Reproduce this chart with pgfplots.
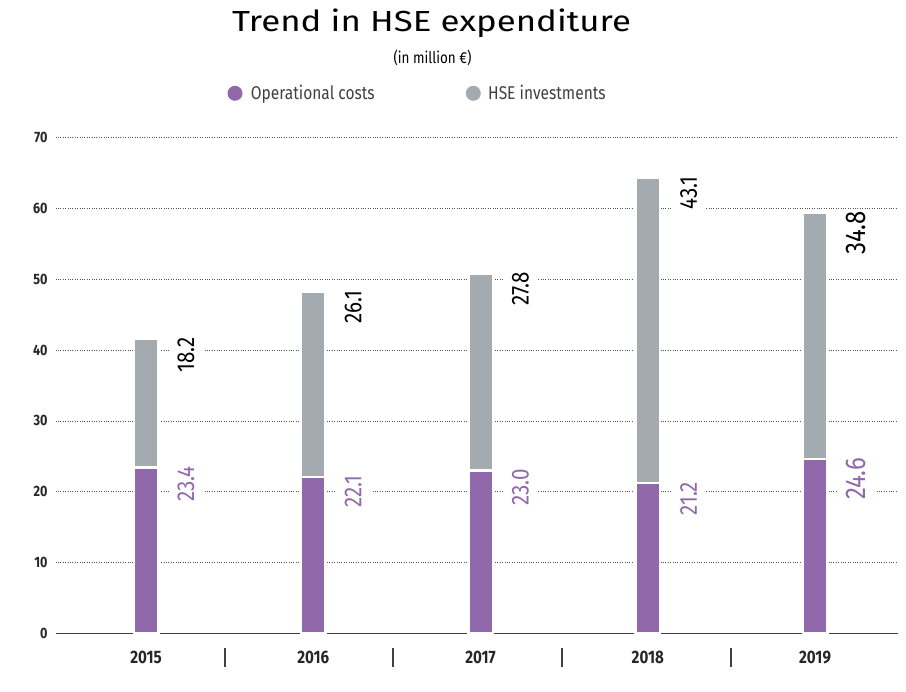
\documentclass[border=0pt]{standalone}
\usepackage{fontspec}
\setmainfont{Fira Sans}
\newfontfamily\cond[FakeStretch=0.84]{Fira Sans}
\newfontfamily\wide[FakeStretch=1.2]{Fira Sans}
\usepackage{pgfplots}
\pgfplotsset{compat=1.18}
\definecolor{hsepurple}{HTML}{9169AB}
\definecolor{hsegray}{HTML}{A3AAB0}
\definecolor{gridc}{HTML}{555555}
\newcommand\vlab[4]{\node[rotate=90, anchor=east, fill=white, inner xsep=1pt, inner ysep=9pt, text=#3, font=#4] at (axis cs:#1) {#2};}
\begin{document}
\begin{tikzpicture}
\begin{axis}[
  at={(55.7pt,58.7pt)}, anchor=south west,
  scale only axis, width=842.3pt, height=495.8pt,
  xmin=-0.54, xmax=4.496, ymin=0, ymax=70,
  ybar stacked, bar width=24.5pt,
  xtick={0,1,2,3,4}, xticklabels={2015,2016,2017,2018,2019},
  ytick={0,10,...,70},
  ymajorgrids, major grid style={gridc, dotted, line width=0.6pt},
  axis line style={draw=none}, tick style={draw=none},
  /pgf/number format/assume math mode=true,
  yticklabel style={font=\cond\bfseries\fontsize{15}{15}\selectfont, inner sep=0pt, xshift=-8pt, text=black!85},
  xticklabel style={font=\cond\bfseries\fontsize{18}{18}\selectfont, inner sep=0pt, anchor=base, yshift=-30pt, text=black!85},
  clip=false,
]
\addplot[fill=hsepurple, draw=white, line width=2.5pt] coordinates {(0,23.4) (1,22.1) (2,23.0) (3,21.2) (4,24.6)};
\addplot[fill=hsegray, draw=white, line width=2.5pt] coordinates {(0,18.2) (1,26.1) (2,27.8) (3,43.1) (4,34.8)};
\draw[color=black!75, line width=1.3pt] (axis cs:-0.54,0) -- (axis cs:4.496,0);
\draw[black!75, line width=2pt] ([yshift=-14.6pt]axis cs:0.47,0) -- ([yshift=-33.3pt]axis cs:0.47,0);
\draw[black!75, line width=2pt] ([yshift=-14.6pt]axis cs:1.475,0) -- ([yshift=-33.3pt]axis cs:1.475,0);
\draw[black!75, line width=2pt] ([yshift=-14.6pt]axis cs:2.485,0) -- ([yshift=-33.3pt]axis cs:2.485,0);
\draw[black!75, line width=2pt] ([yshift=-14.6pt]axis cs:3.495,0) -- ([yshift=-33.3pt]axis cs:3.495,0);
\vlab{0.239,41.95}{18.2}{black}{\cond\fontsize{24.5}{24.5}\selectfont}
\vlab{0.239,23.75}{23.4}{hsepurple}{\cond\fontsize{24.5}{24.5}\selectfont}
\vlab{1.239,48.55}{26.1}{black}{\cond\fontsize{24.5}{24.5}\selectfont}
\vlab{1.239,22.45}{22.1}{hsepurple}{\cond\fontsize{24.5}{24.5}\selectfont}
\vlab{2.239,51.15}{27.8}{black}{\cond\fontsize{24.5}{24.5}\selectfont}
\vlab{2.239,23.35}{23.0}{hsepurple}{\cond\fontsize{24.5}{24.5}\selectfont}
\vlab{3.245,64.65}{43.1}{black}{\cond\fontsize{24.5}{24.5}\selectfont}
\vlab{3.245,21.55}{21.2}{hsepurple}{\cond\fontsize{24.5}{24.5}\selectfont}
\vlab{4.245,59.75}{34.8}{black}{\cond\fontsize{28.5}{28.5}\selectfont}
\vlab{4.245,24.95}{24.6}{hsepurple}{\cond\fontsize{28.5}{28.5}\selectfont}
\end{axis}
\fill[hsepurple] (235pt,598.7pt) circle (7.5pt);
\node[anchor=base west, inner sep=0pt, font=\cond\fontsize{18.5}{18.5}\selectfont, text=black!75] at (250.7pt,592.7pt) {Operational costs};
\fill[hsegray] (473.3pt,598.7pt) circle (7.5pt);
\node[anchor=base west, inner sep=0pt, font=\cond\fontsize{18.5}{18.5}\selectfont, text=black!75] at (488pt,592.7pt) {HSE investments};
\node[anchor=base, inner sep=0pt, font=\wide\fontsize{29}{29}\selectfont] at (431.5pt,660.3pt) {Trend in HSE expenditure};
\node[anchor=base, inner sep=0pt, font=\cond\fontsize{16}{16}\selectfont] at (432.5pt,628pt) {(in million €)};
\pgfresetboundingbox
\path (0,0) rectangle (906pt,692pt);
\end{tikzpicture}
\end{document}
